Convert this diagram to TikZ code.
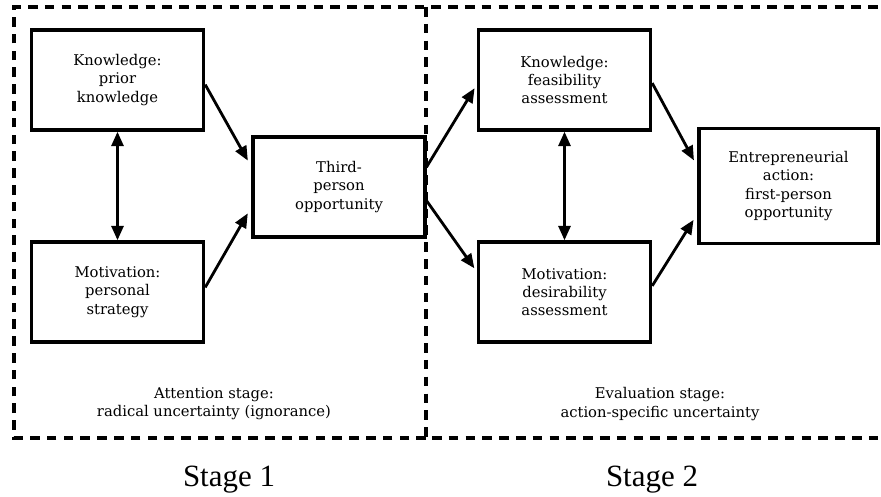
\documentclass[tikz,border=0pt]{standalone}
\usepackage{fontspec}
\setmainfont{DejaVu Serif}
\newfontfamily\stagefont{Liberation Serif}
\usetikzlibrary{arrows.meta}

\begin{document}
\begin{tikzpicture}[x=0.025cm,y=0.025cm,
  box/.style={draw,line width=2.4pt,align=center,minimum width=4.3cm,minimum height=2.5cm,
    inner sep=2pt,font=\fontsize{10.5}{13}\selectfont},
  link/.style={line width=2pt,-{Triangle[length=0.36cm,width=0.3cm]},shorten >=3pt},
  both/.style={line width=2pt,{Triangle[length=0.36cm,width=0.3cm]}-{Triangle[length=0.36cm,width=0.3cm]}},
  frame/.style={line width=2.6pt,dash pattern=on 0.24cm off 0.18cm},
  stagetxt/.style={align=center,font=\fontsize{10.5}{13}\selectfont},
  stagelbl/.style={font=\stagefont\fontsize{22}{26}\selectfont}]
\useasboundingbox (0,0) rectangle (881,496);

% dashed frames of the two stages
\draw[frame] (426,58) -- (14,58) -- (14,489) -- (881,489);
\draw[frame] (426,489) -- (426,58) -- (881,58);

\node[box] (K1) at (117.5,416) {Knowledge:\\prior\\knowledge};
\node[box] (M1) at (117.5,204) {Motivation:\\personal\\strategy};
\node[box] (TP) at (339,309) {Third-\\person\\opportunity};
\node[box] (K2) at (564.5,416) {Knowledge:\\feasibility\\assessment};
\node[box] (M2) at (564.5,204) {Motivation:\\desirability\\assessment};
\node[box,minimum width=4.475cm,minimum height=2.875cm] (EA) at (788.5,310)
  {Entrepreneurial\\action:\\first-person\\opportunity};

\draw[both] (K1) -- (M1);
\draw[both] (K2) -- (M2);
\draw[link,shorten >=5pt] (K1.-3) -- (TP.167);
\draw[link,shorten >=5pt] (M1.3) -- (TP.193);
\draw[link] (TP.13) -- (K2.183);
\draw[link] (TP.-9) -- (M2.167);
\draw[link,shorten >=5pt] (K2.-2) -- (EA.168);
\draw[link,shorten >=5pt] (M2.4) -- (EA.197);

\node[stagetxt] (att) at (214,92) {Attention stage:\\radical uncertainty (ignorance)};
\node[stagetxt] (eva) at (660,92) {Evaluation stage:\\action-specific uncertainty};
\node[stagelbl] (s1) at (229,16) {Stage 1};
\node[stagelbl] (s2) at (652,16) {Stage 2};
\end{tikzpicture}
\end{document}
